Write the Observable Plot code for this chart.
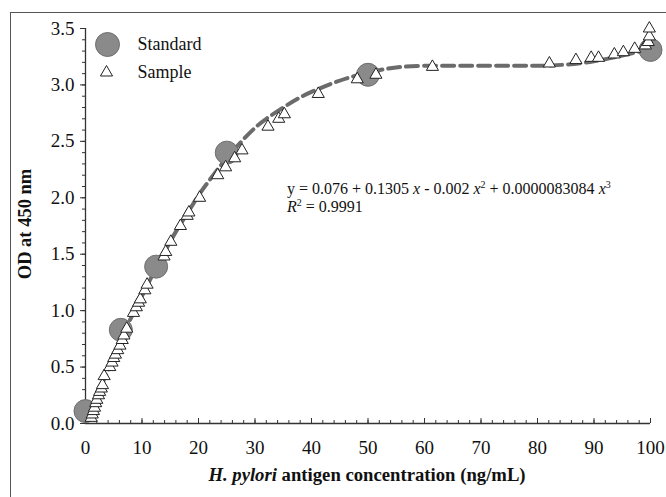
<!DOCTYPE html>
<html>
<head>
<meta charset="utf-8">
<script src="https://cdn.jsdelivr.net/npm/d3@7"></script>
<script src="https://cdn.jsdelivr.net/npm/@observablehq/plot@0.6"></script>
<style>
  html, body { margin: 0; padding: 0; background: #fff; }
  #wrap { position: relative; width: 666px; height: 497px; overflow: hidden; background: #fff;
          font-family: "Liberation Serif", "Times New Roman", serif; color: #111; }
  #frame { position: absolute; left: 10px; top: 12px; width: 700px; height: 600px;
           border-top: 1.5px solid #555; border-left: 1.5px solid #555; }
  #chart { position: absolute; left: 0; top: 0; }
  #chart svg text { font-family: "Liberation Serif", "Times New Roman", serif; }
  #eq { position: absolute; left: 287px; top: 180px; font-size: 16px; line-height: 18px; white-space: nowrap; }
  #eq sup { font-size: 10px; vertical-align: 6px; line-height: 0; }
  #xtitle { position: absolute; left: 367px; top: 465px; transform: translateX(-50%);
            font-size: 18.7px; font-weight: bold; line-height: 20px; white-space: nowrap; }
  #ytitle { position: absolute; left: 25px; top: 224px; transform: translate(-50%, -50%) rotate(-90deg);
            font-size: 18.5px; font-weight: bold; line-height: 20px; white-space: nowrap; }
</style>
</head>
<body>
<div id="wrap">
  <div id="frame"></div>
  <div id="chart"></div>
  <div id="eq">y = 0.076 + 0.1305 <i>x</i> - 0.002 <i>x</i><sup>2</sup> + 0.0000083084 <i>x</i><sup>3</sup><br><i>R</i><sup>2</sup> = 0.9991</div>
  <div id="xtitle"><i>H. pylori</i> antigen concentration (ng/mL)</div>
  <div id="ytitle">OD at 450 nm</div>
</div>
<script>
// Standard points
const stdX = [0, 6.25, 12.5, 25, 50, 100];
const stdY = [0.11, 0.83, 1.39, 2.40, 3.09, 3.31];

// Sample points
const smpX = [1.0, 1.2, 1.4, 1.6, 1.8, 2.0, 2.3, 2.5, 2.8, 3.0, 3.3,
  4.3, 4.7, 5.0, 5.3, 5.7, 6.1, 6.5, 6.8, 7.3,
  8.5, 9.0, 9.4, 9.7, 10.5, 10.9,
  13.9, 14.2, 15.1, 16.8, 18.0, 18.3, 20.2, 23.4, 24.8, 26.4, 27.7,
  32.3, 34.2, 35.2, 41.2, 48.1, 51.4, 61.4, 82.1, 86.8, 89.5, 90.8, 93.6, 95.2, 97.2, 99.1, 99.6, 99.8, 99.8];
const smpY = [0.05, 0.08, 0.11, 0.14, 0.18, 0.21, 0.25, 0.28, 0.31, 0.34, 0.42,
  0.50, 0.54, 0.58, 0.61, 0.65, 0.69, 0.74, 0.78, 0.84,
  0.98, 1.03, 1.07, 1.10, 1.18, 1.23,
  1.48, 1.52, 1.61, 1.75, 1.84, 1.87, 2.00, 2.20, 2.27, 2.35, 2.42,
  2.63, 2.70, 2.74, 2.92, 3.05, 3.09, 3.16, 3.19, 3.22, 3.24, 3.24, 3.27, 3.29, 3.32, 3.35, 3.38, 3.43, 3.50];

// Fitted curve
const fitX = [0.3, 2, 4, 6, 8, 10, 12, 14, 16, 18, 20, 22, 24, 26, 28, 30, 32, 35, 38, 41, 44, 47, 50, 53, 56, 60, 65, 70, 75, 80, 85, 90, 95, 100];
const fitY = [0.04, 0.25, 0.47, 0.72, 0.93, 1.13, 1.33, 1.52, 1.70, 1.86, 2.02, 2.16, 2.29, 2.41, 2.52, 2.62, 2.70, 2.80, 2.89, 2.96, 3.02, 3.07, 3.11, 3.14, 3.16, 3.17, 3.17, 3.17, 3.17, 3.17, 3.18, 3.21, 3.26, 3.32];

// Axis ticks
const xTicks = [0, 10, 20, 30, 40, 50, 60, 70, 80, 90, 100];
const yTicks = [0, 0.5, 1.0, 1.5, 2.0, 2.5, 3.0, 3.5];
const xMinor = d3.range(0, 101, 2);
const yMinor = d3.range(0, 36, 1).map(v => v / 10);

const legendItems = ["Standard", "Sample"];

const standards = stdX.map((x, i) => ({x, y: stdY[i]}));
const samples = smpX.map((x, i) => ({x, y: smpY[i]}));
const fit = fitX.map((x, i) => ({x, y: fitY[i]}));

const axisColor = "#333";
const serif = "Liberation Serif";

const chart = Plot.plot({
  width: 666,
  height: 497,
  marginLeft: 85,
  marginRight: 16,
  marginTop: 28,
  marginBottom: 74,
  x: {domain: [0, 100]},
  y: {domain: [0, 3.5]},
  style: {fontFamily: serif, fontSize: "18px", color: "#111", background: "transparent"},
  marks: [
    // tick labels
    Plot.axisX({ticks: xTicks, tickSize: 0, tickPadding: 17, tickFormat: d => String(d), label: null, fontFamily: serif, fontSize: 19}),
    Plot.axisY({ticks: yTicks, tickSize: 0, tickPadding: 11, tickFormat: d3.format(".1f"), label: null, fontFamily: serif, fontSize: 19}),
    // tick marks
    Plot.ruleX(xMinor, {x: d => d, y1: 0, y2: 0, insetTop: -3, stroke: axisColor}),
    Plot.ruleX(xTicks, {x: d => d, y1: 0, y2: 0, insetTop: -5, stroke: axisColor}),
    Plot.ruleY(yMinor, {y: d => d, x1: 0, x2: 0, insetLeft: -3, stroke: axisColor}),
    Plot.ruleY(yTicks, {y: d => d, x1: 0, x2: 0, insetLeft: -5, stroke: axisColor}),
    // axis lines
    Plot.ruleX([0], {y1: 0, y2: 3.5, stroke: axisColor, strokeWidth: 1.3}),
    Plot.ruleY([0], {x1: 0, x2: 100, stroke: axisColor, strokeWidth: 1.3}),
    // fitted curve
    Plot.line(fit, {x: "x", y: "y", curve: "natural", stroke: "#6b6b6b", strokeWidth: 4, strokeDasharray: "12,6"}),
    // standards
    Plot.dot(standards, {x: "x", y: "y", r: 11.5, fill: "#8a8a8a", stroke: "#6e6e6e", strokeWidth: 1}),
    // samples
    Plot.dot(samples, {x: "x", y: "y", symbol: "triangle", r: 4.5, fill: "#fff", stroke: "#222", strokeWidth: 1}),
    // legend
    Plot.dot([legendItems[0]], {frameAnchor: "top-left", dx: 22, dy: 16, r: 12, fill: "#8a8a8a", stroke: "#6e6e6e", strokeWidth: 1}),
    Plot.dot([legendItems[1]], {frameAnchor: "top-left", dx: 21, dy: 44, symbol: "triangle", r: 4.5, fill: "#fff", stroke: "#222", strokeWidth: 1}),
    Plot.text([legendItems[0]], {frameAnchor: "top-left", text: d => d, dx: 52, dy: 16, textAnchor: "start", lineAnchor: "middle", fill: "#111", fontFamily: serif, fontSize: 18}),
    Plot.text([legendItems[1]], {frameAnchor: "top-left", text: d => d, dx: 52, dy: 44, textAnchor: "start", lineAnchor: "middle", fill: "#111", fontFamily: serif, fontSize: 18})
  ]
});
document.getElementById("chart").appendChild(chart);
</script>
</body>
</html>
